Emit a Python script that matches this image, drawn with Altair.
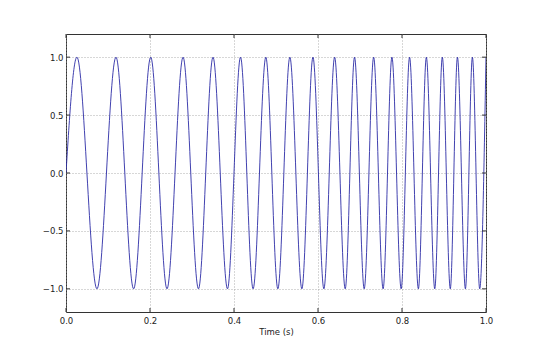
import altair as alt
import pandas as pd

# Times (s) of the signal's start, its successive extrema, and its end
times = [0.0, 0.026, 0.0737, 0.119, 0.161, 0.2017, 0.2405, 0.2787, 0.3154,
         0.350, 0.3845, 0.4155, 0.4455, 0.4758, 0.5044, 0.533, 0.5616, 0.588,
         0.614, 0.6396, 0.6648, 0.687, 0.710, 0.7325, 0.755, 0.776, 0.798,
         0.818, 0.839, 0.858, 0.878, 0.896, 0.915, 0.932, 0.951, 0.9676,
         0.985, 1.0]
values = [0.0] + [1.0 if i % 2 == 0 else -1.0 for i in range(len(times) - 2)] + [1.0]

x_ticks = [0.0, 0.2, 0.4, 0.6, 0.8, 1.0]
y_ticks = [-1.0, -0.5, 0.0, 0.5, 1.0]

W, H = 420, 278
FONT = "DejaVu Sans"

df = pd.DataFrame({"t": times, "v": values})
xt = pd.DataFrame({"t": x_ticks})
yt = pd.DataFrame({"v": y_ticks})

xscale = alt.Scale(domain=[0, 1], nice=False, zero=False)
yscale = alt.Scale(domain=[-1.2, 1.2], nice=False, zero=False)

line = alt.Chart(df).mark_line(
    color="#2b2ba6", strokeWidth=0.9, interpolate="monotone", clip=True
).encode(
    x=alt.X("t:Q", scale=xscale,
            axis=alt.Axis(values=x_ticks, format=".1f", title="Time (s)",
                          grid=True, gridDash=[1, 2], gridColor="#9a9a9a",
                          gridWidth=0.8, tickSize=0, labelPadding=4,
                          labelFlush=False, titlePadding=3, domain=False)),
    y=alt.Y("v:Q", scale=yscale,
            axis=alt.Axis(values=y_ticks, format=".1f", title=None,
                          grid=True, gridDash=[1, 2], gridColor="#9a9a9a",
                          gridWidth=0.8, tickSize=0, labelPadding=3,
                          labelFlush=False, domain=False)),
)

tick_len = 4
xt_bottom = alt.Chart(xt).mark_rule(color="#333333", strokeWidth=1).encode(
    x=alt.X("t:Q", scale=xscale), y=alt.value(H), y2=alt.value(H - tick_len))
xt_top = alt.Chart(xt).mark_rule(color="#333333", strokeWidth=1).encode(
    x=alt.X("t:Q", scale=xscale), y=alt.value(0), y2=alt.value(tick_len))
yt_left = alt.Chart(yt).mark_rule(color="#333333", strokeWidth=1).encode(
    y=alt.Y("v:Q", scale=yscale), x=alt.value(0), x2=alt.value(tick_len))
yt_right = alt.Chart(yt).mark_rule(color="#333333", strokeWidth=1).encode(
    y=alt.Y("v:Q", scale=yscale), x=alt.value(W - tick_len), x2=alt.value(W))

chart = alt.layer(line, xt_bottom, xt_top, yt_left, yt_right).properties(
    width=W, height=H,
    autosize=alt.AutoSizeParams(type="none"),
    padding={"left": 58, "top": 26, "right": 30, "bottom": 34},
).configure_view(
    stroke="#333333", strokeWidth=1
).configure_axis(
    labelFont=FONT, titleFont=FONT, labelFontSize=8.5, titleFontSize=8.5,
    labelColor="#222222", titleColor="#222222", titleFontWeight="normal",
)

chart.save("out.html", embed_options={"renderer": "svg", "actions": False})
